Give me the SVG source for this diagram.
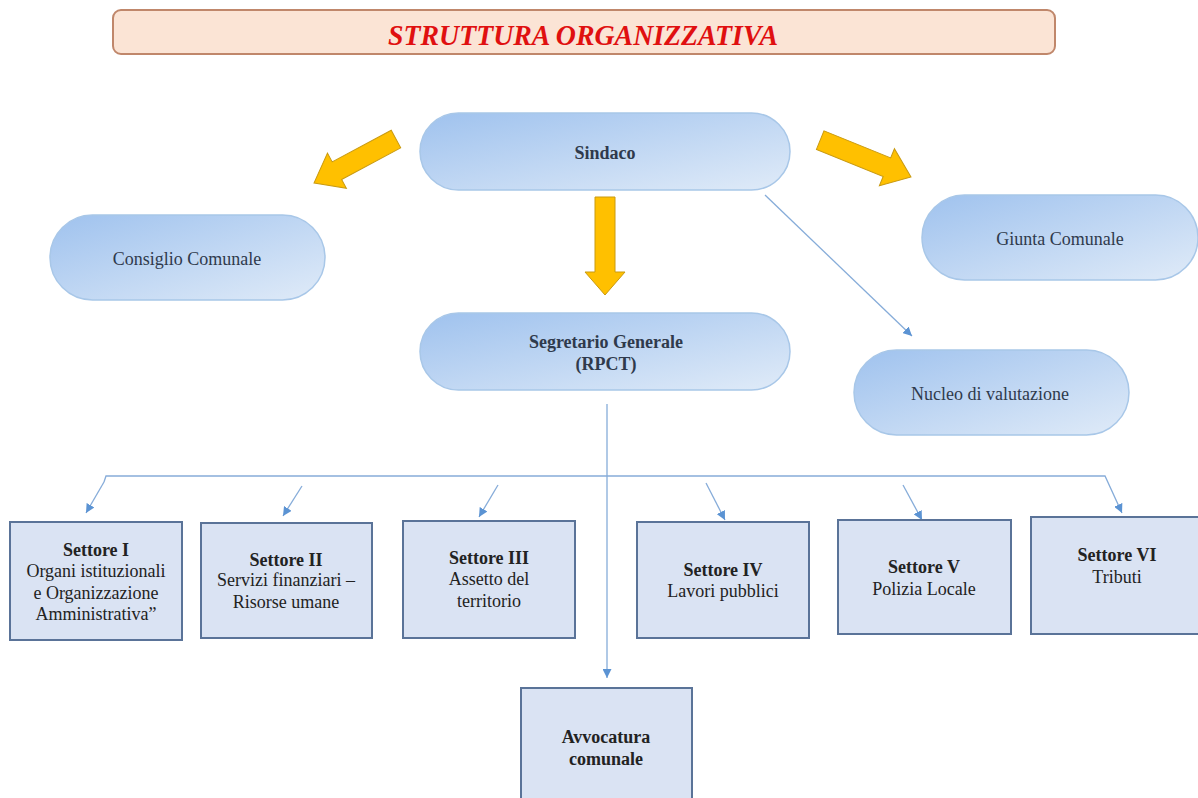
<svg xmlns="http://www.w3.org/2000/svg" width="1198" height="798" viewBox="0 0 1198 798">
<defs>
<linearGradient id="pill" x1="0" y1="0" x2="1" y2="1">
<stop offset="0" stop-color="#9fc2ee"/>
<stop offset="1" stop-color="#e0ebf8"/>
</linearGradient>
<marker id="ah" viewBox="0 0 10 10" refX="10" refY="5" markerWidth="9" markerHeight="9" markerUnits="userSpaceOnUse" orient="auto">
<path d="M0,0 L10,5 L0,10 Z" fill="#5b93d3"/>
</marker>
</defs>
<style>
.pill{fill:url(#pill);stroke:#a8c7e8;stroke-width:1.5}
.box{fill:#dae3f3;stroke:#5a7398;stroke-width:2}
.t{font-family:"Liberation Serif","Times New Roman",serif;font-size:18px;fill:#222;text-anchor:middle}
.b{font-weight:bold}
.ptxt{fill:#2f3a4c}
.conn{stroke:#86acd9;stroke-width:1.3;fill:none}
.ya{fill:#ffc000;stroke:#c99a10;stroke-width:1}
</style>
<g id="title">
<rect x="113" y="10" width="942" height="44" rx="8" fill="#fbe4d5" stroke="#c0876b" stroke-width="2"/>
<text x="583" y="45" font-family="Liberation Serif,serif" font-weight="bold" font-style="italic" font-size="29" fill="#e01010" text-anchor="middle" textLength="390" lengthAdjust="spacingAndGlyphs">STRUTTURA ORGANIZZATIVA</text>
</g>
<g id="connectors">
<polygon class="ya" transform="translate(314,183) rotate(151.8)" points="0,0 -26,-20 -26,-10 -93,-10 -93,10 -26,10 -26,20"/>
<polygon class="ya" transform="translate(605,295) rotate(90)" points="0,0 -23,-20 -23,-10 -98,-10 -98,10 -23,10 -23,20"/>
<polygon class="ya" transform="translate(911,177) rotate(22.1)" points="0,0 -26,-20 -26,-10 -98,-10 -98,10 -26,10 -26,20"/>
<line class="conn" x1="765" y1="195" x2="912" y2="336" marker-end="url(#ah)"/>
<line class="conn" x1="607" y1="404" x2="607" y2="678" marker-end="url(#ah)"/>
<polyline class="conn" points="104,482 106,476 1105,476 1122,513" marker-end="url(#ah)"/>
<line class="conn" x1="104" y1="482" x2="86" y2="513" marker-end="url(#ah)"/>
<line class="conn" x1="302" y1="486" x2="283" y2="516" marker-end="url(#ah)"/>
<line class="conn" x1="498" y1="485" x2="479" y2="517" marker-end="url(#ah)"/>
<line class="conn" x1="706" y1="483" x2="725" y2="520" marker-end="url(#ah)"/>
<line class="conn" x1="903" y1="485" x2="922" y2="520" marker-end="url(#ah)"/>
</g>
<g id="sindaco">
<rect class="pill" x="420" y="113" width="370" height="77" rx="38.5"/>
<text class="t b ptxt" x="605" y="159">Sindaco</text>
</g>
<g id="consiglio">
<rect class="pill" x="50" y="215" width="275" height="85" rx="42.5"/>
<text class="t ptxt" x="187" y="265">Consiglio Comunale</text>
</g>
<g id="giunta">
<rect class="pill" x="922" y="195" width="276" height="85" rx="42.5"/>
<text class="t ptxt" x="1060" y="245">Giunta Comunale</text>
</g>
<g id="segretario">
<rect class="pill" x="420" y="313" width="370" height="77" rx="38.5"/>
<text class="t b ptxt" x="606" y="348">Segretario Generale</text>
<text class="t b ptxt" x="606" y="370">(RPCT)</text>
</g>
<g id="nucleo">
<rect class="pill" x="854" y="350" width="275" height="85" rx="42.5"/>
<text class="t ptxt" x="990" y="400">Nucleo di valutazione</text>
</g>
<g id="settore1">
<rect class="box" x="10" y="522" width="172" height="118"/>
<text class="t b" x="96" y="556">Settore I</text>
<text class="t" x="96" y="577">Organi istituzionali</text>
<text class="t" x="96" y="599">e Organizzazione</text>
<text class="t" x="96" y="620">Amministrativa”</text>
</g>
<g id="settore2">
<rect class="box" x="201" y="523" width="171" height="115"/>
<text class="t b" x="286" y="566">Settore II</text>
<text class="t" x="286" y="586">Servizi finanziari –</text>
<text class="t" x="286" y="608">Risorse umane</text>
</g>
<g id="settore3">
<rect class="box" x="403" y="521" width="172" height="117"/>
<text class="t b" x="489" y="564">Settore III</text>
<text class="t" x="489" y="585">Assetto del</text>
<text class="t" x="489" y="607">territorio</text>
</g>
<g id="settore4">
<rect class="box" x="637" y="522" width="172" height="116"/>
<text class="t b" x="723" y="576">Settore IV</text>
<text class="t" x="723" y="597">Lavori pubblici</text>
</g>
<g id="settore5">
<rect class="box" x="838" y="520" width="173" height="114"/>
<text class="t b" x="924" y="573">Settore V</text>
<text class="t" x="924" y="595">Polizia Locale</text>
</g>
<g id="settore6">
<rect class="box" x="1031" y="517" width="172" height="117"/>
<text class="t b" x="1117" y="561">Settore VI</text>
<text class="t" x="1117" y="583">Tributi</text>
</g>
<g id="avvocatura">
<rect class="box" x="521" y="688" width="171" height="120"/>
<text class="t b" x="606" y="743">Avvocatura</text>
<text class="t b" x="606" y="765">comunale</text>
</g>
</svg>
